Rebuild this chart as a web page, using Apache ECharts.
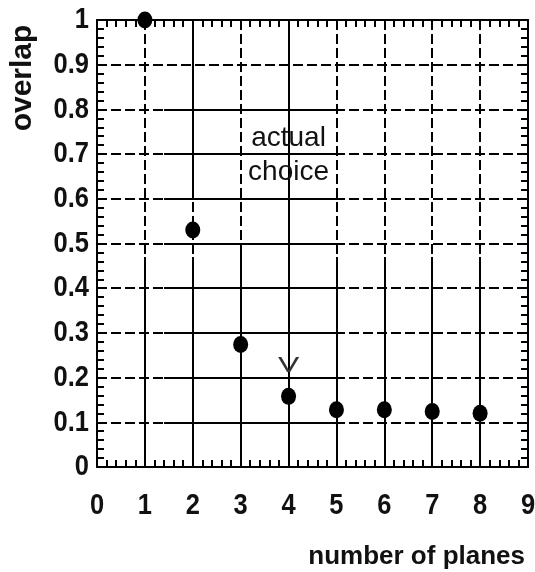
<!DOCTYPE html>
<html>
<head>
<meta charset="utf-8">
<script src="https://cdn.jsdelivr.net/npm/echarts@6/dist/echarts.min.js"></script>
<style>html,body{margin:0;padding:0;background:#fff}#c{width:535px;height:572px}</style>
</head>
<body>
<div id="c"></div>
<script>
// ---- data ----
var planes = [1, 2, 3, 4, 5, 6, 7, 8];
var overlap = [1.0, 0.53, 0.274, 0.158, 0.128, 0.128, 0.124, 0.12];
var xTickValues = [0, 1, 2, 3, 4, 5, 6, 7, 8, 9];
var xTickLabels = ['0','1','2','3','4','5','6','7','8','9'];
var yTickValues = [0, 0.1, 0.2, 0.3, 0.4, 0.5, 0.6, 0.7, 0.8, 0.9, 1];
var yTickLabels = ['0','0.1','0.2','0.3','0.4','0.5','0.6','0.7','0.8','0.9','1'];
var xTitle = 'number of planes';
var yTitle = 'overlap';
var noteLines = ['actual', 'choice'];
var notePos = [[4, 0.736], [4, 0.66]];
var arrowPos = [4, 0.226];
// solid stretches of the grid (rest is dashed)
var solidH = [[1.4,5,0.1],[1.4,5,0.2],[1.4,5,0.3],[1.4,5,0.4],[1.4,5,0.5],[1.4,5,0.6],[1.4,5,0.7],[1.4,5,0.8]];
var solidV = [[1,0,0.47],[2,0,0.47],[2,0.6,1],[3,0,0.5],[4,0,1],[5,0,0.47],[6,0,0.47],[7,0,0.47],[8,0,0.47]];

var segs = [];
solidH.forEach(function(s){ segs.push([{coord:[s[0], s[2]]},{coord:[s[1], s[2]]}]); });
solidV.forEach(function(s){ segs.push([{coord:[s[0], s[1]]},{coord:[s[0], s[2]]}]); });

var black = '#000';
var minor = {show:true, splitNumber:5, length:7, lineStyle:{color:black, width:2}};
var tick = {show:false, inside:true};
var axLine = {show:true, onZero:false, lineStyle:{color:black, width:2}};

var chart = echarts.init(document.getElementById('c'), null, {renderer:'canvas'});
chart.setOption({
  animation:false,
  backgroundColor:'#fff',
  grid:{left:97, right:7, top:20, bottom:105},
  xAxis:[{
    type:'value', min:0, max:9, interval:1, position:'bottom',
    axisLine:axLine, axisTick:tick, minorTick:minor,
    axisLabel:{show:false},
    splitLine:{show:true, lineStyle:{color:black, width:2, type:[10,4]}}
  },{
    type:'value', min:0, max:9, interval:1, position:'top',
    axisLine:axLine, axisTick:tick, minorTick:minor, axisLabel:{show:false}, splitLine:{show:false}
  }],
  yAxis:[{
    type:'value', min:0, max:1, interval:0.1, position:'left',
    axisLine:axLine, axisTick:tick, minorTick:minor,
    axisLabel:{show:false},
    splitLine:{show:true, lineStyle:{color:black, width:2, type:[10,4]}}
  },{
    type:'value', min:0, max:1, interval:0.1, position:'right',
    axisLine:axLine, axisTick:tick, minorTick:minor, axisLabel:{show:false}, splitLine:{show:false}
  }],
  series:[{
    type:'line', data:[], silent:true,
    markLine:{silent:true, symbol:['none','none'], label:{show:false},
      lineStyle:{color:black, width:2, type:'solid'}, data:segs, animation:false}
  },{
    type:'scatter', clip:false, symbol:'circle', symbolSize:[15,17],
    itemStyle:{color:black, opacity:1},
    data:planes.map(function(p,i){return [p, overlap[i]];}), z:5
  }]
});

var tickFont = 'bold 30px "Liberation Sans", Arial, sans-serif';
var g = [];
xTickValues.forEach(function(v,i){
  var p = chart.convertToPixel({gridIndex:0}, [v, 0]);
  g.push({type:'text', x:p[0], y:506, scaleX:0.85, style:{text:xTickLabels[i], fill:'#111', font:tickFont, textAlign:'center', textVerticalAlign:'middle'}});
});
yTickValues.forEach(function(v,i){
  var p = chart.convertToPixel({gridIndex:0}, [0, v]);
  g.push({type:'text', x:89, y:p[1], scaleX:0.85, style:{text:yTickLabels[i], fill:'#111', font:tickFont, textAlign:'right', textVerticalAlign:'middle'}});
});
noteLines.forEach(function(t,i){
  var p = chart.convertToPixel({gridIndex:0}, notePos[i]);
  g.push({type:'text', x:p[0], y:p[1], z:10, style:{text:t, fill:'#111', font:'28px "Liberation Sans", Arial, sans-serif', textAlign:'center', textVerticalAlign:'middle'}});
});
var ap = chart.convertToPixel({gridIndex:0}, arrowPos);
g.push({type:'text', x:ap[0], y:ap[1], scaleX:1.45, z:10, style:{text:'V', fill:'#333', font:'22px "Liberation Sans", Arial, sans-serif', textAlign:'center', textVerticalAlign:'middle'}});
g.push({type:'text', x:525, y:557, style:{text:xTitle, fill:'#111', font:'bold 26px "Liberation Sans", Arial, sans-serif', textAlign:'right', textVerticalAlign:'middle'}});
g.push({type:'text', x:23, y:78, rotation:Math.PI/2, style:{text:yTitle, fill:'#111', font:'bold 30px "Liberation Sans", Arial, sans-serif', textAlign:'center', textVerticalAlign:'middle'}});
chart.setOption({graphic:g});
</script>
</body>
</html>
